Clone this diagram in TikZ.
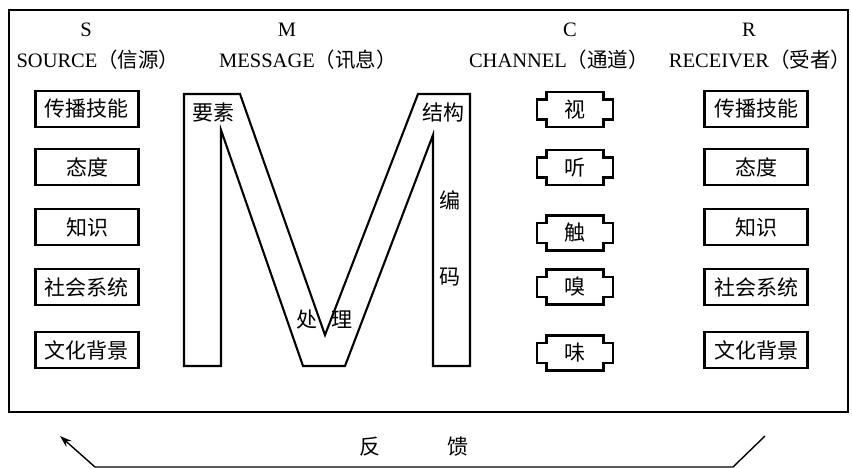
\documentclass[tikz,border=0pt]{standalone}
\usepackage{fontspec}
\setmainfont{Liberation Serif}
\newfontfamily\cjk{Noto Sans CJK SC}
\usetikzlibrary{arrows.meta}
\tikzset{
  elem/.style={draw,line width=2.1pt,minimum width=103pt,minimum height=36pt,inner sep=0pt,
    font=\cjk\fontsize{21}{24}\selectfont},
  zh/.style={inner sep=0pt,font=\cjk\fontsize{21}{24}\selectfont},
  head/.style={inner sep=0pt,font=\fontsize{20.5}{24}\selectfont},
  sense/.style={line width=2.1pt},
}
\begin{document}
\begin{tikzpicture}[x=1pt,y=-1pt]
  \useasboundingbox (0,0) rectangle (852,468);
  % frame
  \draw[line width=2.6pt] (9,10) rectangle (848,412);
  % headings
  \node[head] (S) at (86,30) {S};
  \node[head] (M) at (287,30) {M};
  \node[head] (C) at (570,30) {C};
  \node[head] (R) at (749,30) {R};
  \node[head] (source) at (98,60) {SOURCE{\cjk（信源）}};
  \node[head] (message) at (308,60) {MESSAGE{\cjk（讯息）}};
  \node[head] (channel) at (559,60) {CHANNEL{\cjk（通道）}};
  \node[head] (receiver) at (760,60) {RECEIVER{\cjk（受者）}};
  % source and receiver
  \foreach \t/\y [count=\i] in {传播技能/109,态度/167,知识/227,社会系统/287,文化背景/350} {
    \node[elem] (s\i) at (87,\y) {\t};
    \node[elem] (r\i) at (756,\y) {\t};
  }
  % channels
  \foreach \t/\y [count=\i] in {视/109.5,听/167.5,触/233,嗅/287,味/353} {
    \node[zh] (c\i) at (575,\y) {\t};
    \draw[sense] (c\i.center) ++(-28.5,-17.5) -- ++(57,0) -- ++(0,7.5) -- ++(9.5,0)
      -- ++(0,20) -- ++(-9.5,0) -- ++(0,7.5) -- ++(-57,0) -- ++(0,-7.5)
      -- ++(-9.5,0) -- ++(0,-20) -- ++(9.5,0) -- cycle;
  }
  % message
  \draw[line width=2.1pt,line join=miter] (184,94) -- (184,366) -- (221,366) -- (221,130)
    -- (303,366) -- (345,366) -- (433,135) -- (433,366) -- (470,366) -- (470,94)
    -- (418,94) -- (325,335) -- (240,94) -- cycle;
  \node[zh] (ys) at (213,113) {要素};
  \node[zh] (jg) at (443,113) {结构};
  \node[zh] (bian) at (450,200) {编};
  \node[zh] (ma) at (450,277) {码};
  \node[zh] (chu) at (307,320) {处};
  \node[zh] (li) at (342,320) {理};
  % feedback
  \node[zh] (fan) at (370,447) {反};
  \node[zh] (kui) at (458,447) {馈};
  \coordinate (fbl) at (95,467);
  \coordinate (fbr) at (733,467);
  \draw[line width=1.4pt] (fbr) -- (765,436);
  \draw[line width=1.4pt,-{Stealth[length=12pt,width=8pt]}] (fbr) -- (fbl) -- (60,436);
\end{tikzpicture}
\end{document}
